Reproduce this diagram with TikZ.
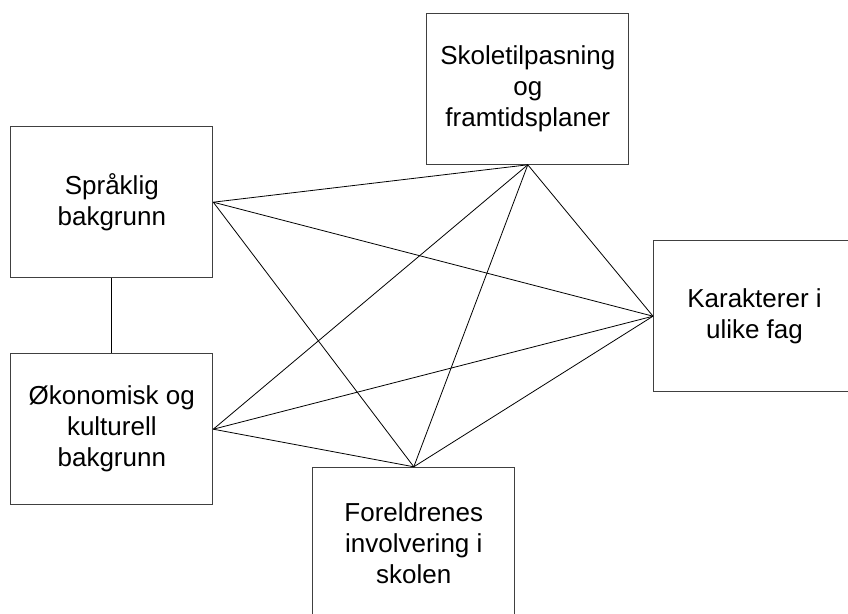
\documentclass[tikz,border=0pt]{standalone}
\usepackage{fontspec}
\setmainfont{Liberation Sans}
\begin{document}
\begin{tikzpicture}[x=1pt,y=1pt,
  box/.style={draw=black!75,line width=1pt,fill=white,minimum width=202pt,minimum height=151pt,inner sep=0pt,align=center,
    font=\fontsize{26}{31}\selectfont},
  link/.style={draw=black,line width=0.8pt}]
\useasboundingbox (0,0) rectangle (848,613);
\clip (0,0) rectangle (848,613);
\node[box] (A) at (111.8,410.8) {Språklig\\bakgrunn};
\node[box] (B) at (111.8,183.8) {Økonomisk og\\kulturell\\bakgrunn};
\node[box] (C) at (527.8,524.2) {Skoletilpasning\\og\\framtidsplaner};
\node[box] (D) at (754.5,296.8) {Karakterer i\\ulike fag};
\node[box] (E) at (413.8,70.2) {Foreldrenes\\involvering i\\skolen};
\draw[link] (A.south) -- (B.north);
\draw[link] (A.east) -- (C.south);
\draw[link] (A.east) -- (D.west);
\draw[link] (A.east) -- (E.north);
\draw[link] (B.east) -- (C.south);
\draw[link] (B.east) -- (D.west);
\draw[link] (B.east) -- (E.north);
\draw[link] (C.south) -- (E.north);
\draw[link] (C.south) -- (D.west);
\draw[link] (D.west) -- (E.north);
\end{tikzpicture}
\end{document}
